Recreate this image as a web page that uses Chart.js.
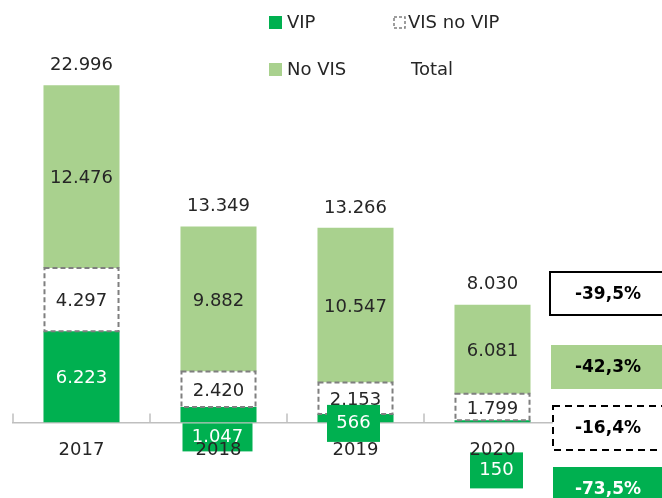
<!DOCTYPE html>
<html lang="es">
<head>
<meta charset="UTF-8">
<title>VIP / VIS</title>
<script src="https://cdn.jsdelivr.net/npm/chart.js"></script>
<style>
  html, body { margin: 0; padding: 0; background: #fff; }
  canvas { display: block; }
</style>
</head>
<body>
<canvas id="chart" width="662" height="498"></canvas>
<script>
// data
const years = ['2017', '2018', '2019', '2020'];
const vip = [6223, 1047, 566, 150];
const visNoVip = [4297, 2420, 2153, 1799];
const noVis = [12476, 9882, 10547, 6081];
const totals = [22996, 13349, 13266, 8030];
const changeLabels = ['-39,5%', '-42,3%', '-16,4%', '-73,5%'];

const DARK = '#00B050';
const LIGHT = '#A9D18E';
const TEXT = '#262626';
const FONT = '"DejaVu Sans", sans-serif';

function fmt(v) {
    return v.toLocaleString('de-DE');
}

// VIP values that are too small get a green box under the axis
const vipBoxes = [null, { dx: -1, dy: 15, w: 70, h: 28 }, { dx: -2, dy: 1, w: 53, h: 37 }, { dx: 4, dy: 48, w: 53, h: 36 }];

// boxes with the variation on the right
const changeBoxes = [
    { x: 550, y: 272, w: 120, h: 43, fill: '#fff', stroke: '#000', dash: [], color: '#000' },
    { x: 551, y: 345, w: 120, h: 44, fill: LIGHT, stroke: null, dash: [], color: '#000' },
    { x: 553, y: 406, w: 120, h: 44, fill: '#fff', stroke: '#000', dash: [7, 5], color: '#000' },
    { x: 553, y: 467, w: 120, h: 44, fill: DARK, stroke: null, dash: [], color: '#fff' }
];

const drawExtras = {
    id: 'drawExtras',
    afterDatasetsDraw(chart) {
        const ctx = chart.ctx;
        const base = chart.scales.y.getPixelForValue(0);

        // dashed outline of "VIS no VIP"
        ctx.save();
        ctx.strokeStyle = '#7F7F7F';
        ctx.lineWidth = 2;
        ctx.setLineDash([5, 3]);
        chart.getDatasetMeta(1).data.forEach(bar => {
            const p = bar.getProps(['x', 'y', 'base', 'width'], true);
            ctx.strokeRect(p.x - p.width / 2 + 1, p.y, p.width - 2, p.base - p.y);
        });
        ctx.restore();

        // tick marks between categories (pointing up)
        const xs = chart.scales.x;
        ctx.save();
        ctx.strokeStyle = '#BFBFBF';
        ctx.lineWidth = 1.5;
        for (let i = 0; i <= years.length; i++) {
            const px = xs.left + i * (xs.width / years.length);
            ctx.beginPath();
            ctx.moveTo(px, base - 9);
            ctx.lineTo(px, base);
            ctx.stroke();
        }
        ctx.restore();

        ctx.save();
        ctx.font = '18px ' + FONT;
        ctx.textAlign = 'center';
        ctx.textBaseline = 'middle';

        // values inside segments (stacked order top-down so VIP boxes end on top)
        const series = [noVis, visNoVip, vip];
        series.forEach((vals, k) => {
            const di = 2 - k;
            chart.getDatasetMeta(di).data.forEach((bar, j) => {
                const p = bar.getProps(['x', 'y', 'base'], true);
                const cy = (p.y + p.base) / 2;
                if (di === 0 && vipBoxes[j]) {
                    const b = vipBoxes[j];
                    const bx = p.x + b.dx;
                    const by = base + b.dy;
                    ctx.fillStyle = DARK;
                    ctx.fillRect(bx - b.w / 2, by - b.h / 2, b.w, b.h);
                    ctx.fillStyle = '#fff';
                    ctx.fillText(fmt(vals[j]), bx, by);
                    return;
                }
                ctx.fillStyle = di === 0 ? '#fff' : TEXT;
                ctx.fillText(fmt(vals[j]), p.x, cy + 2);
            });
        });

        // totals above bars
        chart.getDatasetMeta(2).data.forEach((bar, j) => {
            const p = bar.getProps(['x', 'y'], true);
            ctx.fillStyle = TEXT;
            ctx.fillText(fmt(totals[j]), p.x, p.y - 20);
        });
        ctx.restore();

        // variation boxes
        ctx.save();
        changeBoxes.forEach((b, i) => {
            ctx.fillStyle = b.fill;
            ctx.fillRect(b.x, b.y, b.w, b.h);
            if (b.stroke) {
                ctx.strokeStyle = b.stroke;
                ctx.lineWidth = 2;
                ctx.setLineDash(b.dash);
                ctx.strokeRect(b.x, b.y, b.w, b.h);
                ctx.setLineDash([]);
            }
            ctx.fillStyle = b.color;
            ctx.font = 'bold 17px ' + FONT;
            ctx.textAlign = 'center';
            ctx.textBaseline = 'middle';
            ctx.fillText(changeLabels[i], 608, b.y + b.h / 2 + 1);
        });
        ctx.restore();

        // legend
        ctx.save();
        ctx.font = '18px ' + FONT;
        ctx.textBaseline = 'middle';
        ctx.fillStyle = DARK;
        ctx.fillRect(269, 16, 13, 13);
        ctx.fillStyle = LIGHT;
        ctx.fillRect(269, 63, 13, 13);
        ctx.strokeStyle = '#7F7F7F';
        ctx.lineWidth = 1.5;
        ctx.setLineDash([3, 2]);
        ctx.strokeRect(394, 17, 11, 11);
        ctx.setLineDash([]);
        ctx.fillStyle = TEXT;
        ctx.textAlign = 'left';
        ctx.fillText('VIP', 287, 23);
        ctx.fillText('VIS no VIP', 408, 23);
        ctx.fillText('No VIS', 287, 70);
        ctx.fillText('Total', 411, 70);
        ctx.restore();
    }
};

new Chart(document.getElementById('chart'), {
    type: 'bar',
    data: {
        labels: years,
        datasets: [
            { label: 'VIP', data: vip, backgroundColor: DARK },
            { label: 'VIS no VIP', data: visNoVip, backgroundColor: '#fff' },
            { label: 'No VIS', data: noVis, backgroundColor: LIGHT }
        ]
    },
    options: {
        responsive: false,
        animation: false,
        layout: { padding: { left: 13, right: 101, top: 0, bottom: 28 } },
        datasets: { bar: { barPercentage: 1, categoryPercentage: 0.555, borderWidth: 0 } },
        plugins: { legend: { display: false }, tooltip: { enabled: false } },
        scales: {
            x: {
                stacked: true,
                grid: { display: false },
                border: { display: true, color: '#BFBFBF', width: 1.5 },
                ticks: { color: TEXT, font: { family: FONT, size: 18 }, padding: 9, z: 1 }
            },
            y: { stacked: true, display: false, min: 0, max: 28800 }
        }
    },
    plugins: [drawExtras]
});
</script>
</body>
</html>
